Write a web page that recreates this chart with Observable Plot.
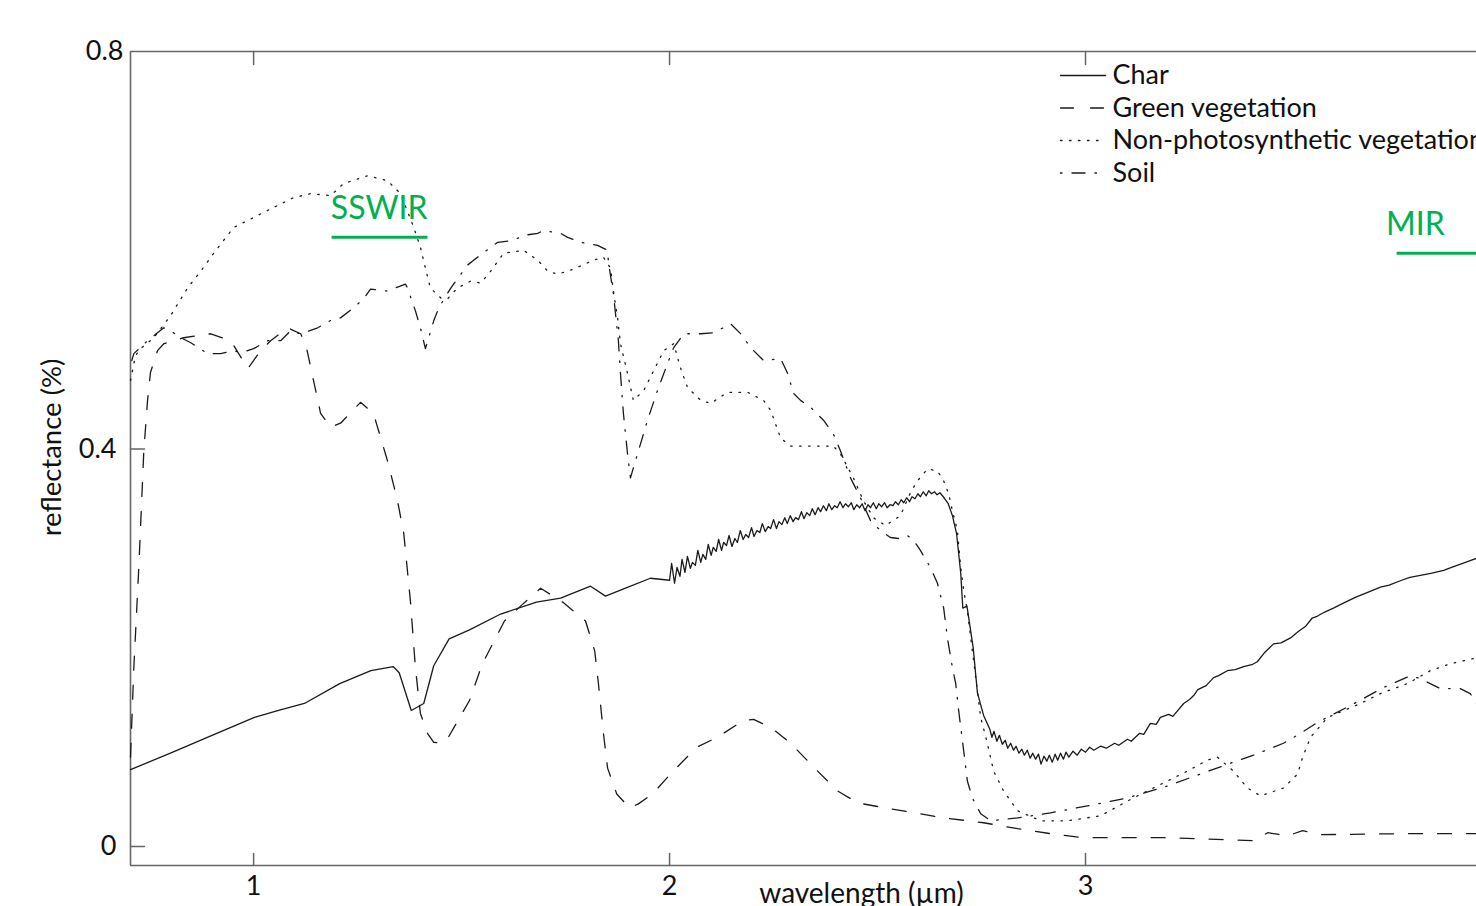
<!DOCTYPE html>
<html>
<head>
<meta charset="utf-8">
<script src="https://cdn.jsdelivr.net/npm/d3@7"></script>
<script src="https://cdn.jsdelivr.net/npm/@observablehq/plot@0.6"></script>
<style>
  html, body { margin: 0; padding: 0; background: #fff; }
  #chart { width: 1476px; height: 906px; overflow: hidden; }
</style>
</head>
<body>
<div id="chart"></div>
<script>
// ---- tick values and labels ----
const xTicks = [1, 2, 3];
const yTicks = [0, 0.4, 0.8];
const yTickLabels = ["0", "0.4", "0.8"];

// ---- series names ----
const seriesNames = ["Char", "Green vegetation", "Non-photosynthetic vegetation", "Soil"];

// ---- spectra: [wavelength (µm), reflectance] ----
const charSpectrum = [
  [0.704,0.0775],[0.80,0.094],[0.90,0.112],[1.002,0.130],[1.06,0.137],[1.122,0.144],[1.207,0.164],
  [1.282,0.177],[1.336,0.181],[1.35,0.175],[1.379,0.137],[1.409,0.144],[1.433,0.182],
  [1.470,0.209],[1.519,0.218],[1.594,0.234],[1.680,0.246],[1.738,0.250],[1.810,0.262],
  [1.846,0.252],[1.894,0.260],[1.954,0.270],[2.00,0.268],
  [2.005,0.285],[2.012,0.265],[2.018,0.281],[2.025,0.272],[2.03,0.289],[2.037,0.276],[2.043,0.292],
  [2.05,0.280],[2.055,0.286],[2.062,0.283],[2.068,0.298],[2.075,0.286],[2.08,0.294],[2.087,0.289],
  [2.093,0.304],[2.10,0.293],[2.105,0.301],[2.112,0.297],[2.118,0.309],[2.125,0.298],[2.13,0.306],
  [2.137,0.303],[2.143,0.313],[2.15,0.302],[2.157,0.310],[2.163,0.306],[2.17,0.318],[2.177,0.309],
  [2.183,0.314],[2.19,0.311],[2.197,0.321],[2.203,0.312],[2.21,0.318],[2.217,0.316],[2.223,0.325],
  [2.23,0.317],[2.237,0.322],[2.243,0.320],[2.25,0.329],[2.257,0.320],[2.263,0.327],[2.27,0.324],
  [2.277,0.331],[2.283,0.325],[2.29,0.333],[2.297,0.327],[2.303,0.331],[2.31,0.329],[2.317,0.337],
  [2.323,0.330],[2.33,0.336],[2.337,0.333],[2.343,0.340],[2.35,0.334],[2.357,0.341],[2.363,0.337],
  [2.37,0.343],[2.377,0.338],[2.383,0.345],[2.39,0.339],[2.397,0.343],[2.403,0.341],[2.41,0.347],
  [2.417,0.341],[2.423,0.345],[2.43,0.342],[2.437,0.346],[2.443,0.339],[2.45,0.344],[2.457,0.341],
  [2.463,0.345],[2.47,0.338],[2.477,0.344],[2.483,0.341],[2.49,0.346],[2.497,0.340],[2.503,0.345],
  [2.51,0.342],[2.517,0.346],[2.523,0.341],[2.53,0.344],[2.537,0.343],[2.543,0.347],[2.55,0.344],
  [2.557,0.349],[2.563,0.346],[2.57,0.351],[2.577,0.347],[2.583,0.352],[2.59,0.350],[2.597,0.355],
  [2.603,0.352],[2.61,0.357],[2.617,0.353],[2.623,0.358],[2.63,0.355],[2.637,0.357],[2.643,0.354],
  [2.65,0.356],[2.66,0.351],[2.67,0.345],[2.68,0.333],
  [2.69,0.315],[2.70,0.275],[2.705,0.240],[2.715,0.242],[2.73,0.200],[2.74,0.155],[2.755,0.132],
  [2.77,0.118],[2.775,0.110],[2.78,0.116],[2.787,0.106],[2.793,0.112],[2.80,0.103],[2.807,0.107],
  [2.813,0.099],[2.82,0.104],[2.827,0.097],[2.833,0.101],[2.84,0.094],[2.847,0.098],[2.853,0.092],
  [2.86,0.097],[2.867,0.089],[2.873,0.094],[2.88,0.088],[2.887,0.093],[2.893,0.083],[2.90,0.091],
  [2.907,0.086],[2.913,0.092],[2.92,0.085],[2.927,0.093],[2.933,0.087],[2.94,0.094],[2.947,0.088],
  [2.953,0.095],[2.96,0.090],[2.97,0.096],[2.98,0.092],[2.99,0.098],[3.00,0.095],[3.01,0.100],
  [3.02,0.097],[3.036,0.101],[3.05,0.099],[3.07,0.104],[3.08,0.102],[3.101,0.108],[3.11,0.106],
  [3.13,0.114],[3.14,0.113],[3.156,0.124],[3.17,0.123],[3.18,0.130],[3.20,0.133],[3.21,0.131],
  [3.236,0.144],[3.25,0.148],[3.26,0.152],[3.27,0.158],[3.29,0.162],[3.308,0.170],[3.32,0.172],
  [3.341,0.177],[3.36,0.178],[3.38,0.181],[3.40,0.183],[3.413,0.186],[3.43,0.195],[3.452,0.204],
  [3.47,0.205],[3.493,0.210],[3.51,0.216],[3.53,0.222],[3.545,0.230],[3.558,0.232],[3.575,0.236],
  [3.596,0.240],[3.62,0.245],[3.65,0.251],[3.68,0.256],[3.709,0.261],[3.73,0.263],[3.76,0.268],
  [3.78,0.271],[3.805,0.273],[3.83,0.275],[3.861,0.278],[3.88,0.281],[3.90,0.284],[3.92,0.287],
  [3.94,0.290]
];

const greenVegetation = [
  [0.704,0.090],[0.712,0.180],[0.724,0.281],[0.736,0.398],[0.745,0.449],[0.752,0.477],[0.769,0.499],
  [0.784,0.506],[0.832,0.512],[0.897,0.516],[0.945,0.509],[0.986,0.481],[1.017,0.499],[1.041,0.509],
  [1.082,0.522],[1.113,0.516],[1.125,0.506],[1.161,0.436],[1.185,0.422],[1.209,0.426],[1.257,0.447],
  [1.288,0.436],[1.322,0.388],[1.346,0.348],[1.361,0.315],[1.377,0.247],[1.389,0.180],[1.401,0.134],
  [1.418,0.114],[1.433,0.105],[1.450,0.104],[1.464,0.107],[1.519,0.147],[1.550,0.184],[1.603,0.227],
  [1.647,0.244],[1.690,0.260],[1.743,0.246],[1.798,0.227],[1.820,0.197],[1.829,0.164],[1.841,0.114],
  [1.851,0.079],[1.873,0.053],[1.904,0.039],[1.925,0.043],[1.959,0.053],[2.002,0.073],[2.065,0.100],
  [2.115,0.110],[2.178,0.127],[2.202,0.128],[2.243,0.120],[2.291,0.104],[2.356,0.076],[2.404,0.056],
  [2.452,0.044],[2.531,0.038],[2.659,0.029],[2.755,0.024],[2.837,0.018],[2.916,0.013],[2.995,0.009],
  [3.197,0.009],[3.404,0.006],[3.438,0.014],[3.486,0.011],[3.522,0.016],[3.565,0.012],[3.757,0.013],
  [3.94,0.013]
];

const nonPhotosynthetic = [
  [0.704,0.469],[0.716,0.494],[0.728,0.501],[0.760,0.512],[0.800,0.534],[0.841,0.562],[0.873,0.579],
  [0.904,0.597],[0.952,0.623],[1.000,0.633],[1.048,0.643],[1.096,0.653],[1.137,0.657],[1.185,0.655],
  [1.216,0.667],[1.274,0.675],[1.322,0.670],[1.353,0.657],[1.385,0.623],[1.401,0.603],[1.413,0.582],
  [1.425,0.562],[1.450,0.552],[1.466,0.551],[1.490,0.562],[1.522,0.569],[1.546,0.567],[1.570,0.579],
  [1.601,0.597],[1.649,0.600],[1.683,0.590],[1.707,0.579],[1.731,0.576],[1.769,0.581],[1.817,0.590],
  [1.841,0.593],[1.858,0.582],[1.865,0.559],[1.875,0.532],[1.882,0.506],[1.899,0.476],[1.913,0.449],
  [1.938,0.459],[1.962,0.479],[1.986,0.499],[2.010,0.506],[2.026,0.482],[2.043,0.462],[2.075,0.449],
  [2.099,0.446],[2.139,0.457],[2.188,0.457],[2.226,0.449],[2.243,0.439],[2.267,0.411],[2.291,0.403],
  [2.346,0.403],[2.394,0.403],[2.411,0.395],[2.442,0.371],[2.466,0.348],[2.490,0.331],[2.519,0.323],
  [2.555,0.333],[2.579,0.356],[2.596,0.368],[2.620,0.380],[2.644,0.378],[2.659,0.368],[2.671,0.355],
  [2.680,0.338],[2.692,0.318],[2.700,0.281],[2.707,0.258],[2.716,0.237],[2.728,0.197],[2.748,0.130],
  [2.764,0.104],[2.779,0.076],[2.803,0.056],[2.837,0.036],[2.892,0.026],[2.957,0.026],[3.036,0.031],
  [3.115,0.049],[3.197,0.066],[3.245,0.076],[3.293,0.087],[3.317,0.090],[3.356,0.076],[3.389,0.059],
  [3.421,0.051],[3.476,0.059],[3.510,0.073],[3.522,0.090],[3.541,0.110],[3.582,0.130],[3.661,0.144],
  [3.709,0.154],[3.774,0.164],[3.829,0.177],[3.877,0.184],[3.94,0.190]
];

const soil = [
  [0.707,0.489],[0.712,0.496],[0.745,0.509],[0.784,0.522],[0.800,0.519],[0.825,0.512],[0.849,0.507],
  [0.889,0.496],[0.921,0.496],[0.952,0.499],[0.969,0.497],[1.000,0.501],[1.034,0.509],[1.065,0.509],
  [1.089,0.519],[1.113,0.516],[1.154,0.522],[1.192,0.531],[1.209,0.532],[1.240,0.542],[1.264,0.551],
  [1.281,0.561],[1.322,0.559],[1.365,0.566],[1.370,0.562],[1.389,0.539],[1.401,0.522],[1.413,0.501],
  [1.433,0.529],[1.445,0.542],[1.474,0.562],[1.514,0.585],[1.529,0.590],[1.570,0.603],[1.587,0.608],
  [1.625,0.610],[1.649,0.615],[1.683,0.617],[1.697,0.620],[1.738,0.617],[1.755,0.613],[1.786,0.608],
  [1.827,0.605],[1.851,0.600],[1.853,0.588],[1.865,0.556],[1.877,0.509],[1.882,0.476],[1.889,0.436],
  [1.899,0.395],[1.906,0.371],[1.913,0.381],[1.930,0.405],[1.947,0.429],[1.971,0.459],[1.995,0.486],
  [2.010,0.502],[2.034,0.516],[2.075,0.516],[2.106,0.517],[2.147,0.526],[2.171,0.516],[2.195,0.502],
  [2.226,0.489],[2.267,0.491],[2.284,0.476],[2.298,0.456],[2.315,0.449],[2.339,0.442],[2.370,0.429],
  [2.394,0.415],[2.411,0.398],[2.435,0.371],[2.459,0.351],[2.483,0.328],[2.507,0.318],[2.531,0.311],
  [2.550,0.310],[2.572,0.313],[2.587,0.308],[2.603,0.298],[2.627,0.281],[2.644,0.265],[2.659,0.240],
  [2.668,0.210],[2.680,0.180],[2.688,0.164],[2.695,0.137],[2.707,0.097],[2.716,0.066],[2.728,0.049],
  [2.748,0.033],[2.772,0.026],[2.837,0.029],[2.916,0.034],[3.005,0.041],[3.101,0.049],[3.197,0.061],
  [3.276,0.073],[3.349,0.084],[3.404,0.092],[3.476,0.104],[3.517,0.114],[3.558,0.125],[3.637,0.142],
  [3.716,0.160],[3.781,0.172],[3.805,0.169],[3.853,0.159],[3.901,0.159],[3.925,0.154],[3.94,0.144]
];

// ---- spectral region annotations: label, start, end (µm), label height, underline height ----
const regionLabels = ["SSWIR", "MIR"];
const regionStart = [1.1875, 3.748];
const regionEnd = [1.418, 4.1];
const regionTextX = [1.302, 3.793];
const regionTextY = [0.642, 0.626];
const regionLineY = [0.613, 0.597];

// ---- styles ----
const ink = "#1a1a1a";
const axisInk = "#666";
const green = "#00b050";
const font = "Lato, 'Open Sans', sans-serif";
const dashes = [null, "14,15", "1.5,7.5", "13,10,1.5,10"];
const legendDashes = [null, "13,17", "1.5,7.5", "1.5,10,13,10,1.5,10"];
const spectra = [charSpectrum, greenVegetation, nonPhotosynthetic, soil];
const labelSize = 27;

const lineShape = { draw(context, l) { context.moveTo(0, 0); context.lineTo(0, -l); } };

const xDomain = [0.704, 3.94];
const yDomain = [-0.019, 0.8];

const marks = [];

// frame (left, top, bottom)
marks.push(Plot.ruleX([xDomain[0]], {stroke: axisInk, strokeWidth: 1.6}));
marks.push(Plot.ruleY([yDomain[0], yDomain[1]], {stroke: axisInk, strokeWidth: 1.6}));

// inward ticks
marks.push(Plot.vector(xTicks, {x: d => d, frameAnchor: "bottom", length: 12, anchor: "start", rotate: 0, shape: lineShape, stroke: axisInk, strokeWidth: 1.5}));
marks.push(Plot.vector(xTicks, {x: d => d, frameAnchor: "top", length: 13, anchor: "start", rotate: 180, shape: lineShape, stroke: axisInk, strokeWidth: 1.5}));
marks.push(Plot.vector(yTicks.slice(0, 2), {y: d => d, frameAnchor: "left", length: 14, anchor: "start", rotate: 90, shape: lineShape, stroke: axisInk, strokeWidth: 1.5}));

// tick labels
marks.push(Plot.text(xTicks, {x: d => d, frameAnchor: "bottom", dy: 21, text: d => String(d), fontSize: labelSize, textAnchor: "middle", lineAnchor: "middle", fill: "#111"}));
marks.push(Plot.text(yTicks.slice(0, 2), {y: d => d, frameAnchor: "left", dx: -14, textAnchor: "end", text: (d, i) => yTickLabels[i], fontSize: labelSize, lineAnchor: "middle", fill: "#111"}));
marks.push(Plot.text(yTicks.slice(2), {y: d => d, frameAnchor: "left", dx: -7, textAnchor: "end", text: (d, i) => yTickLabels[i + 2], fontSize: labelSize, lineAnchor: "middle", fill: "#111"}));

// axis titles
marks.push(Plot.text(["wavelength (\u00b5m)"], {x: 2.4615, frameAnchor: "bottom", dy: 18, fontSize: 28, textAnchor: "middle", lineAnchor: "top", fill: "#111"}));
marks.push(Plot.text(["reflectance (%)"], {frameAnchor: "left", dx: -78, dy: -11, rotate: -90, fontSize: 27.5, textAnchor: "middle", lineAnchor: "middle", fill: "#111"}));

// spectra
spectra.forEach((s, i) => {
  marks.push(Plot.line(s, {x: d => d[0], y: d => d[1], stroke: ink, strokeWidth: 1.3, strokeDasharray: dashes[i], curve: "linear"}));
});

// region annotations
marks.push(Plot.link(regionLabels, {x1: (d, i) => regionStart[i], x2: (d, i) => regionEnd[i], y1: (d, i) => regionLineY[i], y2: (d, i) => regionLineY[i], stroke: green, strokeWidth: 3}));
marks.push(Plot.text(regionLabels, {x: (d, i) => regionTextX[i], y: (d, i) => regionTextY[i], text: d => d, textAnchor: (d, i) => i === 0 ? "middle" : "start", fontSize: 32, fill: green, lineAnchor: "middle"}));

// legend
seriesNames.forEach((name, i) => {
  marks.push(Plot.vector([name], {frameAnchor: "top-left", dx: 930, dy: 24 + i * 32.5, length: 45, anchor: "start", rotate: 90, shape: lineShape, stroke: ink, strokeWidth: 1.3, strokeDasharray: legendDashes[i]}));
  marks.push(Plot.text([name], {frameAnchor: "top-left", dx: 982, dy: 24 + i * 32.5, text: d => d, textAnchor: "start", lineAnchor: "middle", fontSize: 27, fill: "#111"}));
});

const chart = Plot.plot({
  width: 1476,
  height: 906,
  marginLeft: 130,
  marginRight: 0,
  marginTop: 51,
  marginBottom: 41,
  x: {domain: xDomain, axis: null},
  y: {domain: yDomain, axis: null},
  style: {fontFamily: font, background: "#fff", overflow: "hidden"},
  marks
});
document.getElementById("chart").appendChild(chart);
</script>
</body>
</html>
